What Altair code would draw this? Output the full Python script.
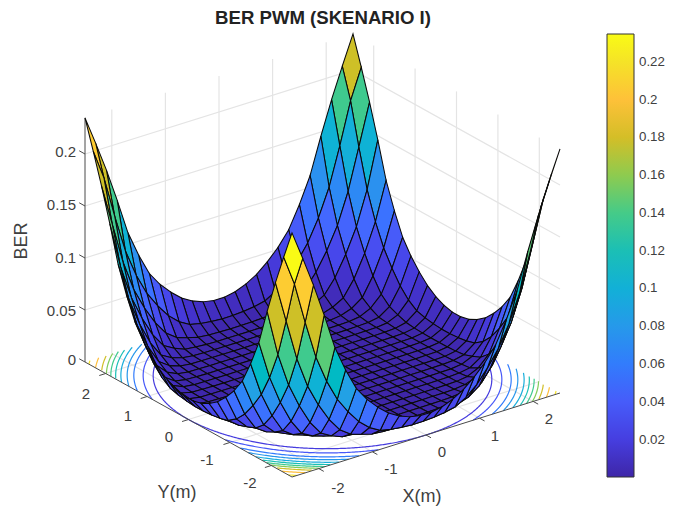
import altair as alt
import numpy as np

N = 25
# BER readings on one octant of the room's grid (|X|, |Y| = 0.1 ... 2.5 m, step 0.2)
BER_ROWS = [
 [0.0002],
 [0.0002, 0.0002],
 [0.0002, 0.0002, 0.0002],
 [0.0002, 0.0002, 0.0002, 0.0002],
 [0.0002, 0.0002, 0.0002, 0.0002, 0.0003],
 [0.0002, 0.0002, 0.0002, 0.0003, 0.0003, 0.0003],
 [0.0003, 0.0003, 0.0003, 0.0003, 0.0004, 0.0004, 0.0006],
 [0.0003, 0.0003, 0.0004, 0.0004, 0.0005, 0.0006, 0.0008, 0.0021],
 [0.0004, 0.0005, 0.0005, 0.0006, 0.0007, 0.0011, 0.0023, 0.0057, 0.0114],
 [0.0007, 0.0007, 0.0007, 0.0011, 0.0019, 0.0029, 0.0071, 0.0129, 0.0264, 0.0456],
 [0.0019, 0.0021, 0.0025, 0.0035, 0.0064, 0.0098, 0.0173, 0.0305, 0.0478, 0.0689, 0.0985],
 [0.0071, 0.0078, 0.0091, 0.0114, 0.0173, 0.0264, 0.0391, 0.0542, 0.0749, 0.1014, 0.138, 0.178],
 [0.0203, 0.0223, 0.0264, 0.0325, 0.0413, 0.052, 0.0658, 0.0868, 0.1115, 0.146, 0.178, 0.207, 0.2347],
]
contour_levels = [.02,.04,.06,.08,.10,.12,.14,.16,.18,.20,.22]
contour_radii = [2.5, 2.648, 2.786, 2.884, 2.977, 3.054, 3.125, 3.191, 3.264, 3.36, 3.47]
grid = np.linspace(-2.5,2.5,N+1)

def Z(i,j):
    a=int(abs(i-N/2)-0.5); b=int(abs(j-N/2)-0.5)
    if b>a:a,b=b,a
    return BER_ROWS[a][b]

PARULA = [[0.2422,0.1504,0.6603],[0.2504,0.1650,0.7076],[0.2578,0.1818,0.7511],[0.2647,0.1978,0.7952],[0.2706,0.2147,0.8364],[0.2751,0.2342,0.8710],[0.2783,0.2559,0.8991],[0.2803,0.2782,0.9221],[0.2813,0.3006,0.9414],[0.2810,0.3228,0.9579],[0.2795,0.3447,0.9717],[0.2760,0.3667,0.9829],[0.2699,0.3892,0.9906],[0.2602,0.4123,0.9952],[0.2440,0.4358,0.9988],[0.2206,0.4603,0.9973],[0.1963,0.4847,0.9892],[0.1834,0.5074,0.9798],[0.1786,0.5289,0.9682],[0.1764,0.5499,0.9520],[0.1687,0.5703,0.9359],[0.1540,0.5902,0.9218],[0.1460,0.6091,0.9079],[0.1380,0.6276,0.8973],[0.1248,0.6459,0.8883],[0.1113,0.6635,0.8763],[0.0952,0.6798,0.8598],[0.0689,0.6948,0.8394],[0.0297,0.7082,0.8163],[0.0036,0.7203,0.7917],[0.0067,0.7312,0.7660],[0.0433,0.7411,0.7394],[0.0964,0.7500,0.7120],[0.1408,0.7584,0.6842],[0.1717,0.7670,0.6554],[0.1938,0.7758,0.6251],[0.2161,0.7843,0.5923],[0.2470,0.7918,0.5567],[0.2906,0.7973,0.5188],[0.3406,0.8008,0.4789],[0.3909,0.8029,0.4354],[0.4456,0.8024,0.3909],[0.5044,0.7993,0.3480],[0.5616,0.7942,0.3045],[0.6174,0.7876,0.2612],[0.6720,0.7793,0.2227],[0.7242,0.7698,0.1910],[0.7738,0.7598,0.1646],[0.8203,0.7498,0.1535],[0.8634,0.7406,0.1596],[0.9035,0.7330,0.1774],[0.9393,0.7288,0.2100],[0.9728,0.7298,0.2394],[0.9956,0.7434,0.2371],[0.9970,0.7659,0.2199],[0.9952,0.7893,0.2028],[0.9892,0.8136,0.1885],[0.9786,0.8386,0.1766],[0.9676,0.8639,0.1643],[0.9610,0.8890,0.1537],[0.9597,0.9135,0.1423],[0.9628,0.9373,0.1265],[0.9691,0.9606,0.1064],[0.9769,0.9839,0.0805]]
HEX = ['#%02x%02x%02x'%tuple(int(round(c*255)) for c in p) for p in PARULA]
ZMIN, ZMAX = 0.0002, 0.2347
ticks_z = [0,.05,.1,.15,.2]
ticks_xy = [-2,-1,0,1,2]

def P(X,Y,z=0.0):
    return [322.5+53.6*X-41.4*Y-8, 377.5-16.8*X-23*Y-1040*z-8]
def line(pts,**p):
    return {"type":"Feature","geometry":{"type":"LineString","coordinates":pts},"properties":p}

cells=[]
for i in range(N):
    for j in range(N):
        x0,x1,y0,y1=grid[i],grid[i+1],grid[j],grid[j+1]
        ring=[P(x0,y0,Z(i,j)),P(x1,y0,Z(i+1,j)),P(x1,y1,Z(i+1,j+1)),P(x0,y1,Z(i,j+1)),P(x0,y0,Z(i,j))]
        d=16.8*(x0+x1)+23*(y0+y1)
        cells.append((d,{"type":"Feature","geometry":{"type":"Polygon","coordinates":[ring]},"properties":{"v":Z(i,j)}}))
cells.sort(key=lambda c:-c[0])
cells=[c[1] for c in cells]

L=2.5
gridlines=[]
for t in ticks_xy:
    gridlines.append(line([P(t,L,0),P(t,L,ZMAX)]))
    gridlines.append(line([P(L,t,0),P(L,t,ZMAX)]))
    gridlines.append(line([P(t,-L,0),P(t,L,0)]))
    gridlines.append(line([P(-L,t,0),P(L,t,0)]))
for z in ticks_z[1:]:
    gridlines.append(line([P(-L,L,z),P(L,L,z),P(L,-L,z)]))

def col(l):
    return HEX[int((l-ZMIN)/(ZMAX-ZMIN)*63)]
contours=[]
for l,r in zip(contour_levels,contour_radii):
    seg=[]
    for a in np.linspace(0,2*np.pi,721):
        X,Y=r*np.cos(a),r*np.sin(a)
        if abs(X)<=L and abs(Y)<=L:
            seg.append(P(X,Y,0))
        else:
            if len(seg)>1: contours.append(line(seg,c=col(l)))
            seg=[]
    if len(seg)>1: contours.append(line(seg,c=col(l)))

axes=[line([P(-L,L,0),P(-L,-L,0),P(L,-L,0)]),line([P(-L,L,0),P(-L,L,ZMAX)])]
for t in ticks_xy:
    axes.append(line([P(-L,t,0),P(-L-0.12,t,0)]))
    axes.append(line([P(t,-L,0),P(t,-L-0.12,0)]))
for z in ticks_z:
    axes.append(line([P(-L,L,z),P(-L,L+0.14,z)]))

proj=dict(type='identity',scale=1,translate=[0,0])
gl=alt.Chart(alt.Data(values=gridlines)).mark_geoshape(filled=False,stroke='#e4e4e4',strokeWidth=1.2).project(**proj)
ct=alt.Chart(alt.Data(values=contours)).mark_geoshape(filled=False,strokeWidth=1.2).encode(stroke=alt.Stroke('properties.c:N',scale=None)).project(**proj)
ax=alt.Chart(alt.Data(values=axes)).mark_geoshape(filled=False,stroke='#4a4a4a',strokeWidth=1).project(**proj)
cbv=[.02,.04,.06,.08,.10,.12,.14,.16,.18,.20,.22]
surf=alt.Chart(alt.Data(values=cells)).mark_geoshape(stroke='#0a0a0a',strokeWidth=1.05).encode(
    color=alt.Color('properties.v:Q',scale=alt.Scale(domain=[ZMIN,ZMAX],range=HEX),
        legend=alt.Legend(orient='none',legendX=599,legendY=26,title=None,gradientLength=443,gradientThickness=27,
            values=cbv,format='.2~f',labelFontSize=13.3,labelFont='Liberation Sans',labelColor='#404040',labelOffset=5,
            gradientStrokeColor='#333333',gradientStrokeWidth=1,labelOverlap=False,padding=0))
).project(**proj)

Xp=alt.X('x:Q',scale=None,axis=None); Yp=alt.Y('y:Q',scale=None,axis=None)
def txt(rows,align='center',**kw):
    return alt.Chart(alt.Data(values=rows)).mark_text(align=align,baseline='middle',font='Liberation Sans',fontSize=kw.pop('fontSize',15),color='#404040',**kw).encode(x=Xp,y=Yp,text='t:N')
zl=[("0",360),("0.05",311),("0.1",258),("0.15",205),("0.2",152)]
zlab=txt([{"x":76-8,"y":y-8,"t":t} for t,y in zl],align='right')
yl=[("2",86,394),("1",128,416),("0",169,437),("-1",207,460),("-2",250,483)]
xl=[("-2",338,488),("-1",391,469),("0",442,452),("1",495,436),("2",549,419)]
xylab=txt([{"x":x-8,"y":y-8,"t":t} for t,x,y in yl+xl])
atit=txt([{"x":177-8,"y":493-8,"t":"Y(m)"},{"x":422-8,"y":497-8,"t":"X(m)"}],fontSize=18)
ztit=txt([{"x":22-8,"y":241-8,"t":"BER"}],fontSize=18,angle=270)
def cy(v): return 477-8-(v-ZMIN)/(ZMAX-ZMIN)*443
cbt=alt.Chart(alt.Data(values=[{"x":622.5,"x2":626,"y":cy(v)} for v in cbv])).mark_rule(color='#333333',strokeWidth=1).encode(x=Xp,x2='x2:Q',y=Yp)

W=657
chart=alt.layer(gl,ct,ax,surf,zlab,xylab,atit,ztit,cbt).properties(
    width=W,height=499,padding=0,autosize=alt.AutoSizeParams(type='none'),
    title=alt.TitleParams("BER PWM (SKENARIO I)",font='Liberation Sans',fontSize=18.6,fontWeight='bold',color='#222222',anchor='middle',frame='group',offset=0,dx=323-8-W/2,dy=20)
).configure_view(stroke=None)
chart.save("out.html",embed_options={"renderer":"svg","actions":False})
